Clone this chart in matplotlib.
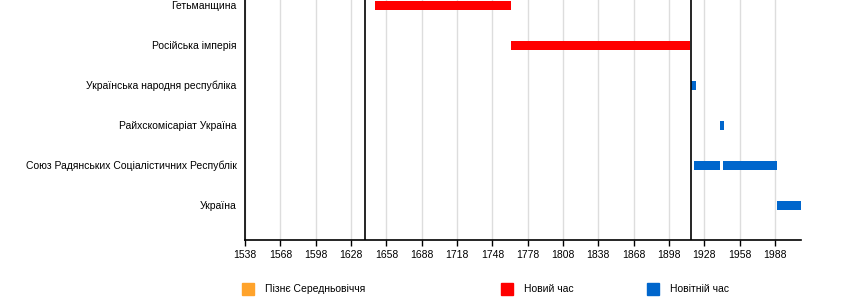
import matplotlib.pyplot as plt

plt.rcParams['font.family'] = ['Liberation Sans', 'DejaVu Sans']

states = [
    'Гетьманщина',
    'Російська імперія',
    'Українська народня республіка',
    'Райхскомісаріат Україна',
    'Союз Радянських Соціалістичних Республік',
    'Україна',
]

# (row, start, end, era)
spans = [
    (0, 1648, 1764, 'new'),
    (1, 1764, 1916, 'new'),
    (2, 1917, 1921, 'newest'),
    (3, 1941, 1944.5, 'newest'),
    (4, 1919.5, 1941, 'newest'),
    (4, 1943.5, 1990, 'newest'),
    (5, 1989.5, 2010, 'newest'),
]

era_bounds = [1639.5, 1916.5]
era_names = ['Пізнє Середньовіччя', 'Новий час', 'Новітній час']
era_keys = ['late', 'new', 'newest']
era_colors = {'late': '#ffa32b', 'new': '#ff0000', 'newest': '#0066cc'}

ticks = list(range(1538, 2000, 30))

fig = plt.figure(figsize=(8.5, 3), dpi=100)
ax = fig.add_axes([245 / 850, 60 / 300, 556 / 850, 240 / 300])

for row, start, end, era in spans:
    ax.barh(row, end - start, left=start, height=0.225,
            color=era_colors[era], zorder=3)

for b in era_bounds:
    ax.axvline(b, color='black', lw=1.2, zorder=4)

ax.set_xlim(1538, 2010)
ax.set_ylim(5.875, -0.125)
ax.set_xticks(ticks)
ax.set_xticklabels([str(t) for t in ticks], fontsize=7.5)
ax.set_yticks(range(len(states)))
ax.set_yticklabels(states, fontsize=7.5)
ax.tick_params(axis='y', length=0, pad=6)
ax.tick_params(axis='x', length=4, width=1, pad=3)
ax.grid(axis='x', color='#dddddd', lw=1, zorder=0)
ax.spines['top'].set_visible(False)
ax.spines['right'].set_visible(False)
ax.spines['left'].set_linewidth(1.2)
ax.spines['bottom'].set_linewidth(1.2)

# legend items
xs = [242, 501, 647]
for x, name, key in zip(xs, era_names, era_keys):
    fig.patches.append(plt.Rectangle((x / 850, 5 / 300), 12 / 850, 12 / 300,
                                     transform=fig.transFigure,
                                     color=era_colors[key]))
    fig.text((x + 23) / 850, 11 / 300, name, fontsize=7.5, va='center')

fig.savefig('out.png', dpi=100)
